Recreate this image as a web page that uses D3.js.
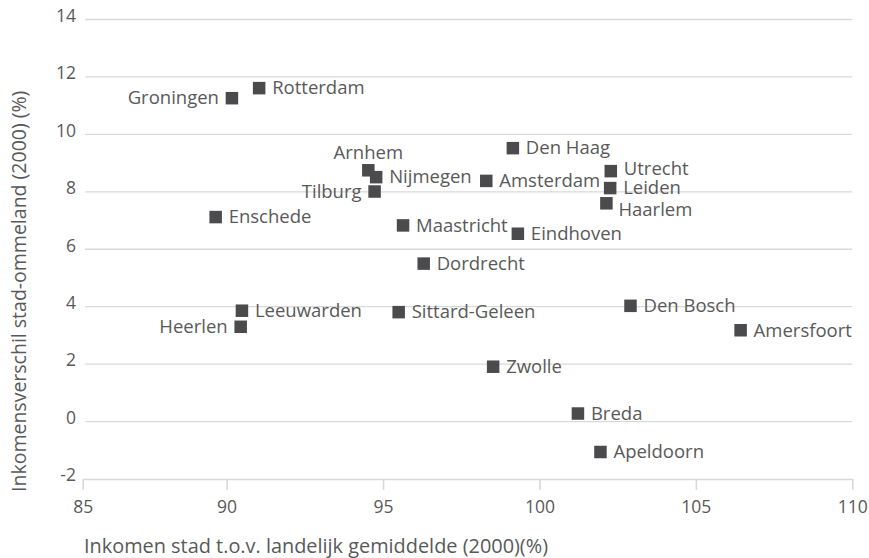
<!DOCTYPE html>
<html>
<head>
<meta charset="utf-8">
<script src="https://cdn.jsdelivr.net/npm/d3@7"></script>
<style>
  html, body { margin: 0; padding: 0; background: #ffffff; }
  svg { display: block; }
  text { font-family: "Open Sans", "DejaVu Sans", sans-serif; fill: #595959; }
</style>
</head>
<body>
<svg id="chart" width="869" height="558"></svg>
<script>
// ---- data ----
const cities = ["Groningen","Rotterdam","Arnhem","Nijmegen","Tilburg","Den Haag","Amsterdam","Utrecht","Leiden","Haarlem","Enschede","Maastricht","Eindhoven","Dordrecht","Leeuwarden","Heerlen","Sittard-Geleen","Den Bosch","Amersfoort","Zwolle","Breda","Apeldoorn"];
const income = [90.17, 91.04, 94.53, 94.78, 94.73, 99.15, 98.30, 102.28, 102.26, 102.14, 89.65, 95.64, 99.31, 96.30, 90.49, 90.45, 95.50, 102.91, 106.43, 98.52, 101.23, 101.95];
const diff   = [11.26, 11.61, 8.75, 8.51, 8.01, 9.52, 8.38, 8.72, 8.13, 7.60, 7.12, 6.83, 6.54, 5.50, 3.86, 3.30, 3.81, 4.03, 3.18, 1.91, 0.28, -1.06];
// label placement relative to marker: r = right, ru = right slightly up, l = left, t = top, br = below-right
const labelSide = ["l","r","t","r","l","r","r","ru","r","br","r","r","r","r","r","l","r","r","r","r","r","r"];
const xTickValues = [85.4, 90, 95, 100, 105, 110];
const xTickLabels = ["85","90","95","100","105","110"];
const yTickValues = [-2, 0, 2, 4, 6, 8, 10, 12, 14];
const yTickLabels = ["-2","0","2","4","6","8","10","12","14"];
const xTitle = "Inkomen stad t.o.v. landelijk gemiddelde (2000)(%)";
const yTitle = "Inkomensverschil stad-ommeland (2000) (%)";

// ---- layout ----
const svg = d3.select("#chart");
const x = d3.scaleLinear().domain([85.4, 110]).range([82.7, 852.3]);
const y = d3.scaleLinear().domain([-2, 14]).range([479, 19.5]);
const gridColor = "#d9d9d9";

// gridlines
svg.append("g").selectAll("line")
  .data(yTickValues.filter(v => v > -2))
  .join("line")
  .attr("x1", 85).attr("x2", x(110))
  .attr("y1", d => y(d)).attr("y2", d => y(d))
  .attr("stroke", gridColor).attr("stroke-width", 1.3);

// x axis
const xAxis = d3.axisBottom(x)
  .tickValues(xTickValues)
  .tickFormat((d, i) => xTickLabels[i])
  .tickSizeInner(11).tickSizeOuter(0).tickPadding(11);
const gx = svg.append("g").attr("transform", `translate(0,${y(-2)})`).call(xAxis);
gx.select(".domain").attr("stroke", gridColor).attr("stroke-width", 1.6);
gx.selectAll(".tick line").attr("stroke", gridColor).attr("stroke-width", 1.6);
gx.selectAll(".tick text")
  .attr("font-size", 17.5).attr("fill", "#595959")
  .style("font-family", '"Open Sans", sans-serif');

// y axis labels
const yAxis = d3.axisLeft(y)
  .tickValues(yTickValues)
  .tickFormat((d, i) => yTickLabels[i])
  .tickSize(0).tickPadding(0);
const gy = svg.append("g").attr("transform", "translate(76,0)").call(yAxis);
gy.select(".domain").remove();
gy.selectAll(".tick text")
  .attr("font-size", 17.5).attr("fill", "#595959")
  .attr("dy", "0.1em")
  .style("font-family", '"Open Sans", sans-serif');

// markers
const pts = cities.map((c, i) => ({ name: c, x: income[i], y: diff[i], side: labelSide[i] }));
const ms = 12.5;
svg.append("g").selectAll("rect")
  .data(pts)
  .join("rect")
  .attr("x", d => x(d.x) - ms / 2)
  .attr("y", d => y(d.y) - ms / 2)
  .attr("width", ms).attr("height", ms)
  .attr("fill", "#4b4b4d");

// labels
svg.append("g").selectAll("text")
  .data(pts)
  .join("text")
  .attr("font-size", 18.5)
  .attr("x", d => {
    const cx = x(d.x);
    if (d.side === "l") return cx - 13;
    if (d.side === "t") return cx;
    if (d.side === "br") return cx + 12;
    return cx + 13;
  })
  .attr("y", d => {
    const cy = y(d.y);
    if (d.side === "t") return cy - 11.5;
    if (d.side === "br") return cy + 13;
    if (d.side === "ru") return cy + 3.8;
    return cy + 6.3;
  })
  .attr("text-anchor", d => d.side === "l" ? "end" : (d.side === "t" ? "middle" : "start"))
  .text(d => d.name);

// axis titles
svg.append("text")
  .attr("x", 84).attr("y", 553)
  .attr("font-size", 19.9)
  .text(xTitle);

svg.append("text")
  .attr("transform", "translate(26,492) rotate(-90)")
  .attr("font-size", 19.5)
  .attr("text-anchor", "start")
  .text(yTitle);
</script>
</body>
</html>
